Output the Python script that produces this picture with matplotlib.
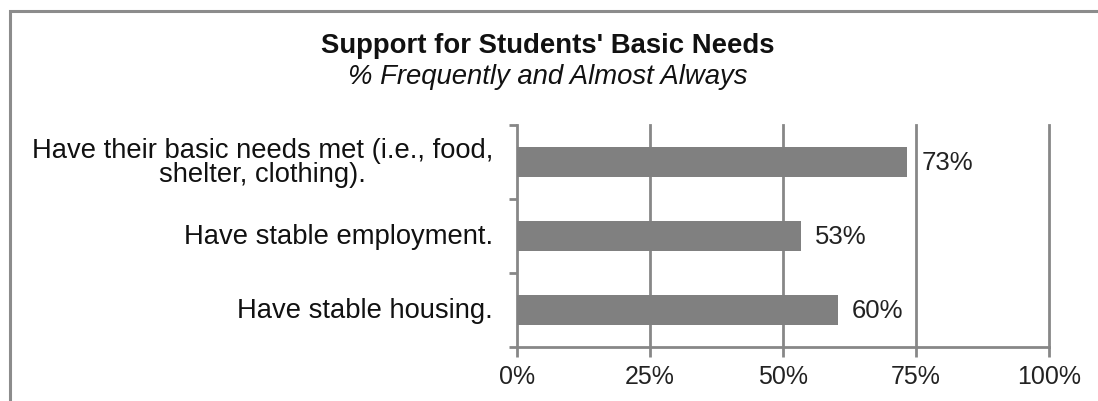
import matplotlib
matplotlib.use("Agg")
import matplotlib.pyplot as plt
from matplotlib.patches import Rectangle

categories = [
    "Have their basic needs met (i.e., food,\nshelter, clothing).",
    "Have stable employment.",
    "Have stable housing.",
]
values = [73.4, 53.4, 60.3]
xticks = [0, 25, 50, 75, 100]
xtick_labels = ["0%", "25%", "50%", "75%", "100%"]
title = "Support for Students' Basic Needs"
subtitle = "% Frequently and Almost Always"

W, H = 1098, 402
fig = plt.figure(figsize=(W / 100, H / 100), dpi=100)
plt.rcParams["font.family"] = ["Liberation Sans", "DejaVu Sans"]

grey = "#878787"
bar_color = "#808080"

# outer frame (right and bottom edges run off the canvas)
fig.patches.append(Rectangle((10 / W, -0.1), 1.2, (H - 12) / H + 0.1,
                             transform=fig.transFigure, fill=False,
                             edgecolor="#8c8c8c", linewidth=2.2, zorder=0))

left, right, top, bottom = 517, 1049, 126, 348
ax = fig.add_axes([left / W, 1 - bottom / H, (right - left) / W, (bottom - top) / H])

ypos = list(range(len(categories)))
ax.barh(ypos, values, height=0.4, color=bar_color, zorder=3)
ax.set_ylim(len(categories) - 0.5, -0.5)
ax.set_xlim(0, 100)

for y, v in zip(ypos, values):
    ax.text(v + 2.6, y, f"{v:.0f}%", va="center", ha="left",
            fontsize=18.5, color="#222222")

ax.set_xticks(xticks)
ax.set_xticklabels(xtick_labels, fontsize=18, color="#222222")
ax.set_yticks([-0.5, 0.5, 1.5, 2.5])
ax.set_yticklabels([])
ax.tick_params(axis="y", length=6, width=2, color=grey, direction="out")
ax.tick_params(axis="x", length=7, width=2, color=grey, direction="out", pad=5)

for y, c in zip(ypos, categories):
    ax.text(-0.045, y, c, transform=ax.get_yaxis_transform(), ha="right",
            va="center", multialignment="center", fontsize=19.7, color="#111111",
            linespacing=0.9)

for x in xticks[1:]:
    ax.axvline(x, color=grey, linewidth=2, zorder=1, clip_on=False)

for s in ["top", "right"]:
    ax.spines[s].set_visible(False)
for s in ["left", "bottom"]:
    ax.spines[s].set_color(grey)
    ax.spines[s].set_linewidth(2)

fig.text(548 / W, 1 - 53 / H, title, ha="center", va="baseline",
         fontsize=19.8, fontweight="bold", color="#111111")
fig.text(548 / W, 1 - 84 / H, subtitle, ha="center", va="baseline",
         fontsize=19.8, fontstyle="italic", color="#111111")

fig.savefig("out.png", dpi=100)
